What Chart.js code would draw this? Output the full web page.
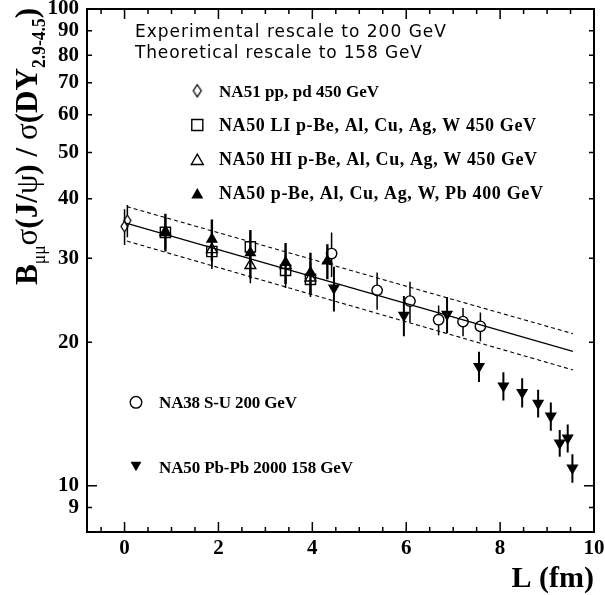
<!DOCTYPE html>
<html>
<head>
<meta charset="utf-8">
<script src="https://cdn.jsdelivr.net/npm/chart.js@4.4.1/dist/chart.umd.min.js"></script>
<style>
  html, body { margin: 0; padding: 0; background: #fff; }
  #wrap { width: 605px; height: 595px; }
</style>
</head>
<body>
<div id="wrap"><canvas id="c" width="605" height="595"></canvas></div>
<script>
// J/psi over Drell-Yan ratio versus L (fm), with errors, per data set
const na51L = [0.0, 0.06];
const na51R = [35.0, 36.0];
const na51E = [3.0, 2.8];

const na50liL = [0.87, 1.86, 2.68, 3.43, 3.96];
const na50liR = [34.0, 31.0, 31.7, 28.3, 27.1];
const na50liE = [2.6, 2.5, 2.6, 2.3, 2.2];

const na50hiL = [0.87, 1.86, 2.68, 3.43, 3.96];
const na50hiR = [34.0, 31.3, 29.0, 29.0, 27.3];
const na50hiE = [2.6, 2.5, 2.4, 2.3, 2.2];

const na50pL = [0.87, 1.86, 2.68, 3.43, 3.96, 4.32];
const na50pR = [34.1, 32.9, 30.8, 29.4, 28.0, 29.6];
const na50pE = [3.1, 3.3, 3.6, 2.9, 2.8, 2.5];

const na38L = [4.41, 5.38, 6.08, 6.69, 7.21, 7.58];
const na38R = [30.7, 25.7, 24.4, 22.3, 22.1, 21.6];
const na38E = [3.3, 2.3, 2.4, 1.6, 1.5, 1.5];

const pbpbL = [4.46, 5.95, 6.87, 7.55, 8.07, 8.47, 8.81, 9.08, 9.27, 9.44, 9.54];
const pbpbR = [26.0, 22.8, 22.9, 17.8, 16.2, 15.7, 14.9, 14.0, 12.3, 12.6, 10.9];
const pbpbE = [2.8, 2.2, 2.0, 1.3, 1.1, 1.1, 1.0, 0.95, 0.8, 0.85, 0.75];

// absorption fit and its band
const fitL = [0.05, 9.55];
const fitMid = [35.5, 19.15];
const fitHigh = [38.5, 20.85];
const fitLow = [32.6, 17.5];

const xTicks = [0, 2, 4, 6, 8, 10];
const yTicks = [9, 10, 20, 30, 40, 50, 60, 70, 80, 90, 100];

const legendTop = [
  'NA51 pp, pd 450 GeV',
  'NA50 LI p-Be, Al, Cu, Ag, W 450 GeV',
  'NA50 HI p-Be, Al, Cu, Ag, W 450 GeV',
  'NA50 p-Be, Al, Cu, Ag, W, Pb 400 GeV'
];
const legendBottom = ['NA38 S-U 200 GeV', 'NA50 Pb-Pb 2000 158 GeV'];
const headerLines = ['Experimental rescale to 200 GeV', 'Theoretical rescale to 158 GeV'];

const SERIF = "'Liberation Serif', 'Times New Roman', serif";
const SANS = "'DejaVu Sans', 'Liberation Sans', sans-serif";

function pts(xs, ys) { return xs.map((x, i) => ({ x: x, y: ys[i] })); }

// tall open diamond used as point style
function diamondImg(w, h, lw) {
  const c = document.createElement('canvas');
  c.width = w + 4; c.height = h + 4;
  const g = c.getContext('2d');
  const cx = c.width / 2, cy = c.height / 2;
  g.lineWidth = lw; g.strokeStyle = '#000';
  g.beginPath();
  g.moveTo(cx, cy - h / 2); g.lineTo(cx + w / 2, cy);
  g.lineTo(cx, cy + h / 2); g.lineTo(cx - w / 2, cy);
  g.closePath(); g.stroke();
  return c;
}
const diamondPlot = diamondImg(7, 11, 1.3);
const diamondLegend = diamondImg(8, 12, 1.3);

const CLEAR = 'rgba(0,0,0,0)';

function markerSet(label, xs, ys, es, style, r, filled, rot, barW, gap) {
  return {
    label: label, data: pts(xs, ys), errs: es, barWidth: barW, barGap: gap,
    pointStyle: style, pointRadius: r, pointRotation: rot || 0,
    backgroundColor: filled ? '#000' : CLEAR, borderColor: '#000',
    borderWidth: 1.4, showLine: false, order: 0
  };
}
function fitSet(ys, dash) {
  return {
    type: 'line', data: pts(fitL, ys), borderColor: '#000', borderWidth: dash ? 1.1 : 1.3,
    borderDash: dash ? [4, 3] : [], pointRadius: 0, showLine: true, fill: false, order: 5
  };
}

const datasets = [
  markerSet(legendTop[3], na50pL, na50pR, na50pE, 'triangle', 5.6, true, 0, 2.4, 0),
  markerSet(legendTop[1], na50liL, na50liR, na50liE, 'rect', 7.2, false, 0, 1.5, 5),
  markerSet(legendTop[2], na50hiL, na50hiR, na50hiE, 'triangle', 6.2, false, 0, 1.5, 4),
  markerSet(legendTop[0], na51L, na51R, na51E, diamondPlot, 6, false, 0, 1.5, 5.5),
  markerSet(legendBottom[0], na38L, na38R, na38E, 'circle', 5.2, false, 0, 1.5, 5.2),
  markerSet(legendBottom[1], pbpbL, pbpbR, pbpbE, 'triangle', 5.6, true, 180, 2.0, 0),
  fitSet(fitMid, false),
  fitSet(fitHigh, true),
  fitSet(fitLow, true)
];

function marker(ctx, style, x, y, r, filled, rot) {
  ctx.save();
  ctx.translate(x, y);
  ctx.rotate((rot || 0) * Math.PI / 180);
  ctx.lineWidth = 1.4; ctx.strokeStyle = '#000'; ctx.fillStyle = '#000';
  ctx.beginPath();
  if (style === 'circle') {
    ctx.arc(0, 0, r, 0, Math.PI * 2);
  } else if (style === 'rect') {
    const s = r * Math.SQRT1_2;
    ctx.rect(-s, -s, 2 * s, 2 * s);
  } else if (style === 'triangle') {
    let a = 0;
    ctx.moveTo(Math.sin(a) * r, -Math.cos(a) * r);
    a += 2 * Math.PI / 3; ctx.lineTo(Math.sin(a) * r, -Math.cos(a) * r);
    a += 2 * Math.PI / 3; ctx.lineTo(Math.sin(a) * r, -Math.cos(a) * r);
    ctx.closePath();
  }
  if (filled) ctx.fill(); else ctx.stroke();
  ctx.restore();
}

// spread a line of text out to a given width
function fitText(ctx, text, x, y, width) {
  const w = ctx.measureText(text).width;
  if ('letterSpacing' in ctx) {
    ctx.letterSpacing = ((width - w) / (text.length - 1)).toFixed(2) + 'px';
  }
  ctx.fillText(text, x, y);
  if ('letterSpacing' in ctx) ctx.letterSpacing = '0px';
}

function drawYTitle(ctx) {
  const big = 32, sub = 18;
  const parts = [
    ['B', 'bold ' + big + 'px ' + SERIF, 0],
    ['\u03bc\u03bc', sub + 'px ' + SERIF, 8],
    ['\u03c3', big + 'px ' + SERIF, 0],
    ['(J/', 'bold ' + big + 'px ' + SERIF, 0],
    ['\u03c8', big + 'px ' + SERIF, 0],
    [') / ', 'bold ' + big + 'px ' + SERIF, 0],
    ['\u03c3', big + 'px ' + SERIF, 0],
    ['(DY', 'bold ' + big + 'px ' + SERIF, 0],
    ['2.9-4.5', 'bold ' + sub + 'px ' + SERIF, 8],
    [')', 'bold ' + big + 'px ' + SERIF, 0]
  ];
  let total = 0;
  const widths = parts.map(p => { ctx.font = p[1]; const w = ctx.measureText(p[0]).width; total += w; return w; });
  const s = 277 / total;
  ctx.save();
  ctx.translate(37, 285);
  ctx.rotate(-Math.PI / 2);
  ctx.scale(s, 1);
  ctx.textBaseline = 'alphabetic';
  ctx.textAlign = 'left';
  ctx.fillStyle = '#000';
  let t = 0;
  parts.forEach((p, i) => { ctx.font = p[1]; ctx.fillText(p[0], t, p[2]); t += widths[i]; });
  ctx.restore();
}

const decor = {
  id: 'decor',
  beforeDatasetsDraw(chart) {
    const ctx = chart.ctx, xs = chart.scales.x, ys = chart.scales.y;
    ctx.save();
    ctx.strokeStyle = '#000';
    chart.data.datasets.forEach(ds => {
      if (!ds.errs) return;
      ctx.lineWidth = ds.barWidth;
      ds.data.forEach((p, k) => {
        const e = ds.errs[k];
        const px = xs.getPixelForValue(p.x);
        const yc = ys.getPixelForValue(p.y);
        const yt = ys.getPixelForValue(p.y + e);
        const yb = ys.getPixelForValue(p.y - e);
        ctx.beginPath();
        ctx.moveTo(px, yt); ctx.lineTo(px, yc - ds.barGap);
        ctx.moveTo(px, yc + ds.barGap); ctx.lineTo(px, yb);
        ctx.stroke();
      });
    });
    ctx.restore();
  },
  afterDraw(chart) {
    const ctx = chart.ctx, a = chart.chartArea, xs = chart.scales.x, ys = chart.scales.y;
    ctx.save();
    ctx.strokeStyle = '#000';
    ctx.fillStyle = '#000';

    // tick marks on all four sides, pointing inward
    ctx.lineWidth = 1.5;
    ctx.beginPath();
    for (let v = -0.5; v < 10; v += 0.5) {
      const px = xs.getPixelForValue(v);
      const len = (Math.abs(v % 2) < 1e-9) ? 10 : 5;
      ctx.moveTo(px, a.bottom); ctx.lineTo(px, a.bottom - len);
      ctx.moveTo(px, a.top); ctx.lineTo(px, a.top + len);
    }
    yTicks.forEach(v => {
      const py = ys.getPixelForValue(v);
      const len = (v === 10 || v === 100) ? 10 : 5;
      ctx.moveTo(a.left, py); ctx.lineTo(a.left + len, py);
      ctx.moveTo(a.right, py); ctx.lineTo(a.right - len, py);
    });
    ctx.stroke();

    // frame
    ctx.lineWidth = 2;
    ctx.strokeRect(a.left, a.top, a.right - a.left, a.bottom - a.top);

    // axis titles
    ctx.font = 'bold 30px ' + SERIF;
    ctx.textAlign = 'right';
    ctx.textBaseline = 'alphabetic';
    ctx.fillText('L (fm)', a.right, 587);
    drawYTitle(ctx);

    // header
    ctx.textAlign = 'left';
    ctx.font = '17px ' + SANS;
    fitText(ctx, headerLines[0], 135, 37, 311);
    fitText(ctx, headerLines[1], 135, 57.5, 287);

    // legend
    const topY = [96.7, 131, 165, 199.3];
    const topW = [160, 317, 318, 324];
    const topSize = [17, 18, 18, 18];
    legendTop.forEach((t, i) => {
      ctx.font = 'bold ' + topSize[i] + 'px ' + SERIF;
      fitText(ctx, t, 219, topY[i], topW[i]);
    });
    ctx.drawImage(diamondLegend, 197.3 - diamondLegend.width / 2, 90.7 - diamondLegend.height / 2);
    marker(ctx, 'rect', 197.3, 125, 7.8, false, 0);
    marker(ctx, 'triangle', 197.3, 161, 6.9, false, 0);
    marker(ctx, 'triangle', 197.3, 195, 6.9, true, 0);

    ctx.font = 'bold 17px ' + SERIF;
    fitText(ctx, legendBottom[0], 159, 408.3, 138);
    fitText(ctx, legendBottom[1], 159, 473.3, 194);
    marker(ctx, 'circle', 136, 402.3, 5.8, false, 0);
    marker(ctx, 'triangle', 136, 465, 6.3, true, 180);
    ctx.restore();
  }
};

const tickFont = { family: SERIF, size: 21, weight: 'bold', lineHeight: 1.2 };

new Chart(document.getElementById('c'), {
  type: 'scatter',
  data: { datasets: datasets },
  options: {
    responsive: false,
    animation: false,
    events: [],
    layout: { padding: { top: 9, right: 11, left: 0, bottom: 0 } },
    plugins: { legend: { display: false }, tooltip: { enabled: false } },
    scales: {
      x: {
        type: 'linear', min: -0.8, max: 10,
        grid: { display: false, drawTicks: false },
        border: { display: false },
        afterBuildTicks: s => { s.ticks = xTicks.map(v => ({ value: v })); },
        afterFit: s => { s.height = 63; s.paddingLeft = 0; s.paddingRight = 0; },
        ticks: { font: tickFont, color: '#000', padding: 4, autoSkip: false, maxRotation: 0, callback: v => String(v) }
      },
      y: {
        type: 'logarithmic', min: 8, max: 100,
        grid: { display: false, drawTicks: false },
        border: { display: false },
        afterBuildTicks: s => { s.ticks = yTicks.map(v => ({ value: v })); },
        afterFit: s => { s.width = 87; s.paddingTop = 0; s.paddingBottom = 0; },
        ticks: { font: tickFont, color: '#000', padding: 8, autoSkip: false, callback: v => String(v) }
      }
    }
  },
  plugins: [decor]
});
</script>
</body>
</html>
